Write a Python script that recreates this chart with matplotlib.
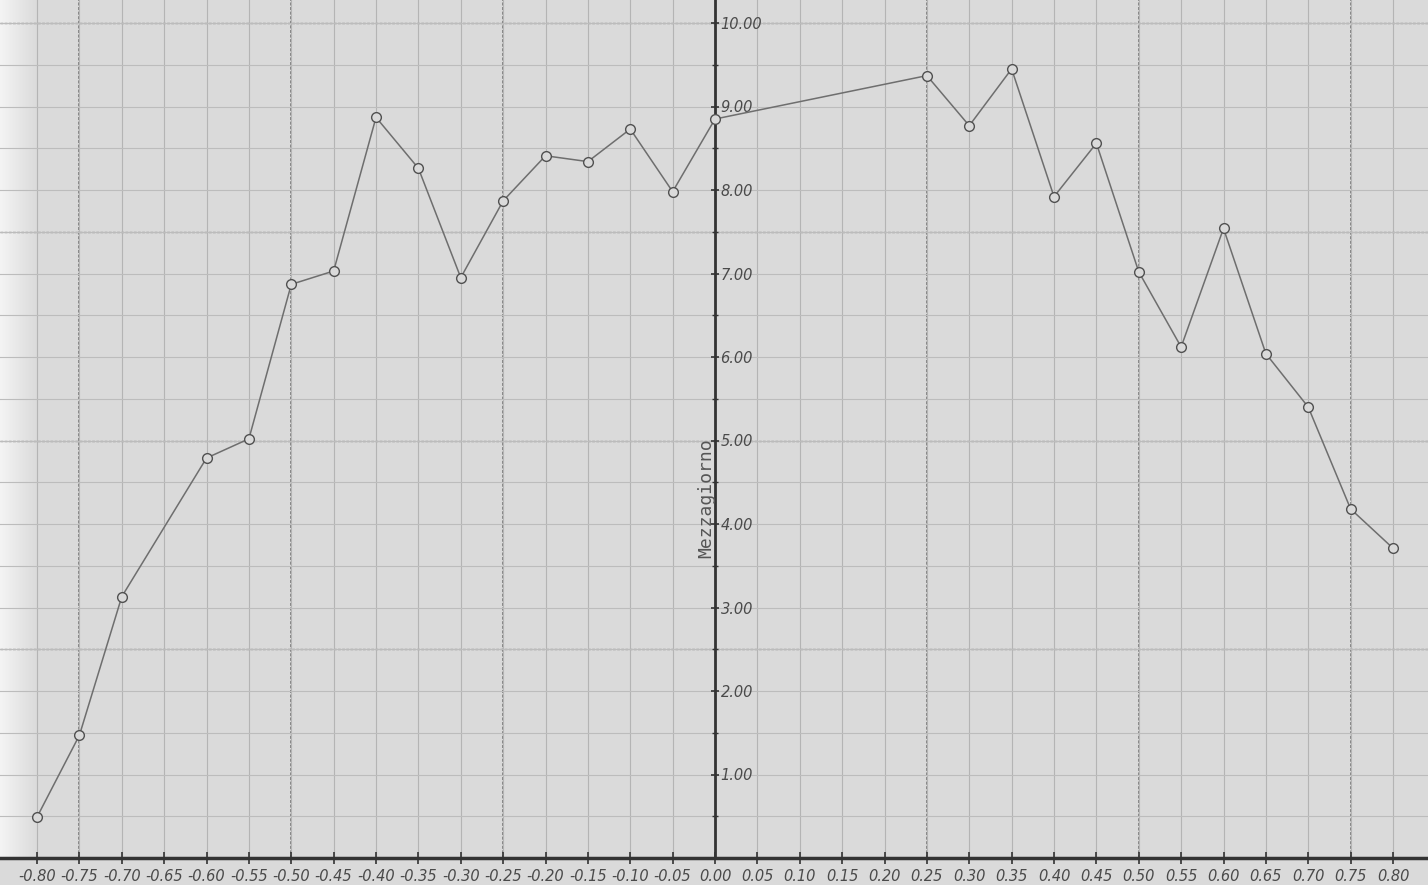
import numpy as np
import matplotlib
matplotlib.use("Agg")
import matplotlib.pyplot as plt
from matplotlib.ticker import MultipleLocator, FixedLocator

# values
x_vals = [-0.80, -0.75, -0.70, -0.60, -0.55, -0.50, -0.45, -0.40, -0.35, -0.30,
          -0.25, -0.20, -0.15, -0.10, -0.05, 0.00, 0.25, 0.30, 0.35, 0.40,
          0.45, 0.50, 0.55, 0.60, 0.65, 0.70, 0.75, 0.80]
y_vals = [0.49, 1.47, 3.13, 4.79, 5.02, 6.87, 7.03, 8.87, 8.26, 6.95,
          7.87, 8.41, 8.34, 8.73, 7.98, 8.85, 9.37, 8.77, 9.45, 7.92,
          8.56, 7.02, 6.12, 7.54, 6.04, 5.40, 4.18, 3.71]

x_ticks = [round(-0.80 + 0.05 * i, 2) for i in range(33)]
x_labels = ["%.2f" % t if t != 0 else "0.00" for t in x_ticks]
y_ticks = [1, 2, 3, 4, 5, 6, 7, 8, 9, 10]
y_labels = ["%.2f" % t for t in y_ticks]
heavy_x = [-0.75, -0.50, -0.25, 0.25, 0.50, 0.75]
heavy_y = [2.5, 5.0, 7.5, 10.0]
y_title = "Mezzagiorno"

bg = "#dadada"
ink = "#4a4a4a"

fig = plt.figure(figsize=(14.28, 8.85), dpi=100, facecolor=bg)
ax = fig.add_axes([0, 27 / 885, 1, 858 / 885])
ax.set_facecolor(bg)
ax.set_xlim(-0.8437, 0.8413)
ax.set_ylim(0, 858 / 83.5)

# whiter strip at the left edge of the scan
grad = np.linspace(1, 0, 50).reshape(1, -1)
ax.imshow(grad, extent=(-0.8437, -0.80, 0, 858 / 83.5), aspect="auto",
          cmap=matplotlib.colors.LinearSegmentedColormap.from_list("w", [bg, "#f4f4f4"]),
          zorder=0)

# graph paper
ax.xaxis.set_major_locator(FixedLocator(x_ticks))
ax.yaxis.set_major_locator(FixedLocator(y_ticks))
ax.yaxis.set_minor_locator(MultipleLocator(0.5))
ax.grid(which="major", axis="x", color="#b4b4b4", lw=0.8, zorder=1)
ax.grid(which="both", axis="y", color="#bcbcbc", lw=0.8, zorder=1)
for hx in heavy_x:
    ax.axvline(hx, color="#6e6e6e", lw=1.1, ls=(0, (2, 1)), zorder=1)
for hy in heavy_y:
    ax.axhline(hy, color="#858585", lw=1.0, ls=(0, (2, 1)), zorder=1)

# spines: vertical axis through zero, horizontal at bottom
ax.spines["top"].set_visible(False)
ax.spines["left"].set_visible(False)
ax.spines["right"].set_position(("data", 0))
ax.spines["right"].set_color("#333333")
ax.spines["right"].set_linewidth(2)
ax.spines["bottom"].set_color("#333333")
ax.spines["bottom"].set_linewidth(2.5)
ax.yaxis.tick_right()

ax.set_xticklabels(x_labels, fontsize=10.5, style="italic", color=ink)
ax.set_yticklabels(y_labels, fontsize=10.5, style="italic", color=ink)
ax.tick_params(axis="x", which="major", direction="inout", length=8, width=1.2,
               color="#333333", pad=4)
ax.tick_params(axis="y", which="major", direction="inout", length=6, width=1.2,
               color="#333333", pad=1)
ax.tick_params(axis="y", which="minor", direction="inout", length=5, width=1.0,
               color="#333333")

ax.text(-0.0106, 4.31, y_title, rotation=90, ha="center", va="center",
        fontsize=13, family="DejaVu Sans Mono", color="#555555")

ax.plot(x_vals, y_vals, color="#6e6e6e", lw=1.1, marker="o", markersize=7,
        markerfacecolor=bg, markeredgecolor="#505050", markeredgewidth=1.0,
        zorder=3, clip_on=False)

plt.savefig("out.png", dpi=100, facecolor=bg)
